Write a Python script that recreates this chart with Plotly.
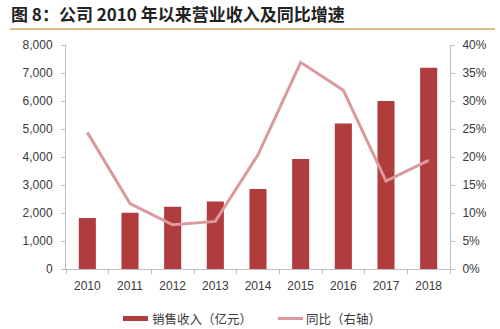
import plotly.graph_objects as go

# Annual sales revenue (100 million CNY) and YoY growth (%)
years = ["2010", "2011", "2012", "2013", "2014", "2015", "2016", "2017", "2018"]
revenue = [1820, 2010, 2220, 2410, 2860, 3930, 5200, 6000, 7190]
yoy_pct = [24.4, 11.7, 7.9, 8.5, 20.4, 36.9, 31.9, 15.7, 19.4]

left_ticks = [0, 1000, 2000, 3000, 4000, 5000, 6000, 7000, 8000]
right_ticks = [0, 5, 10, 15, 20, 25, 30, 35, 40]

bar_color = "#b13c3e"
line_color = "#da9a9d"
axis_color = "#bfbfbf"
text_color = "#3a3a3a"
font_main = "Liberation Sans, Noto Sans CJK SC, sans-serif"
font_cjk = "Noto Sans CJK SC, sans-serif"

W, H = 500, 329
ML, MR, MT, MB = 66, 50, 45, 60
PW, PH = W - ML - MR, H - MT - MB


def px_x(x):
    return (x - ML) / PW


def px_y(y):
    return (H - MB - y) / PH


fig = go.Figure()
fig.add_trace(go.Bar(
    x=years, y=revenue, name="销售收入（亿元）",
    marker=dict(color=bar_color, line=dict(width=0)),
    width=0.4, yaxis="y", showlegend=False,
))
fig.add_trace(go.Scatter(
    x=years, y=yoy_pct, name="同比（右轴）", mode="lines",
    line=dict(color=line_color, width=3), yaxis="y2", showlegend=False,
))

fig.update_layout(
    width=W, height=H,
    margin=dict(l=ML, r=MR, t=MT, b=MB),
    paper_bgcolor="white", plot_bgcolor="white",
    font=dict(family=font_main, size=12, color=text_color),
    bargap=0.6,
    xaxis=dict(
        type="category", showgrid=False, showline=True, linecolor=axis_color,
        linewidth=1, ticks="outside", tickson="boundaries", ticklen=4,
        tickcolor=axis_color, tickfont=dict(size=12, color=text_color),
        ticklabelstandoff=6, range=[-0.5, 8.5],
    ),
    yaxis=dict(
        range=[0, 8000], tickvals=left_ticks, tickformat=",d",
        showgrid=False, zeroline=False, showline=True, linecolor=axis_color,
        ticks="outside", ticklen=4, tickcolor=axis_color,
        tickfont=dict(size=12, color=text_color), ticklabelstandoff=6,
    ),
    yaxis2=dict(
        range=[0, 40], tickvals=right_ticks,
        ticktext=[f"{v}%" for v in right_ticks],
        overlaying="y", side="right", showgrid=False, zeroline=False,
        showline=True, linecolor=axis_color, ticks="outside", ticklen=4,
        tickcolor=axis_color, tickfont=dict(size=12, color=text_color),
        ticklabelstandoff=5,
    ),
)

# Title and rule beneath it
fig.add_annotation(
    text="<b>图 8：公司 2010 年以来营业收入及同比增速</b>",
    xref="paper", yref="paper", x=px_x(9), y=px_y(14),
    xanchor="left", yanchor="middle", showarrow=False,
    font=dict(family=font_cjk, size=17, color="#222222"),
)
fig.add_shape(
    type="line", xref="paper", yref="paper",
    x0=px_x(10), x1=px_x(495), y0=px_y(29), y1=px_y(29),
    line=dict(color="#d8bd7e", width=2),
)

# Legend
fig.add_shape(
    type="rect", xref="paper", yref="paper",
    x0=px_x(123), x1=px_x(148), y0=px_y(321), y1=px_y(316),
    fillcolor=bar_color, line=dict(width=0),
)
fig.add_annotation(
    text="销售收入（亿元）", xref="paper", yref="paper",
    x=px_x(150), y=px_y(318.5), xanchor="left", yanchor="middle",
    showarrow=False, font=dict(family=font_cjk, size=12.5, color=text_color),
)
fig.add_shape(
    type="line", xref="paper", yref="paper",
    x0=px_x(278), x1=px_x(303), y0=px_y(318.5), y1=px_y(318.5),
    line=dict(color=line_color, width=3),
)
fig.add_annotation(
    text="同比（右轴）", xref="paper", yref="paper",
    x=px_x(304), y=px_y(318.5), xanchor="left", yanchor="middle",
    showarrow=False, font=dict(family=font_cjk, size=12.5, color=text_color),
)

fig.write_html("out.html")
